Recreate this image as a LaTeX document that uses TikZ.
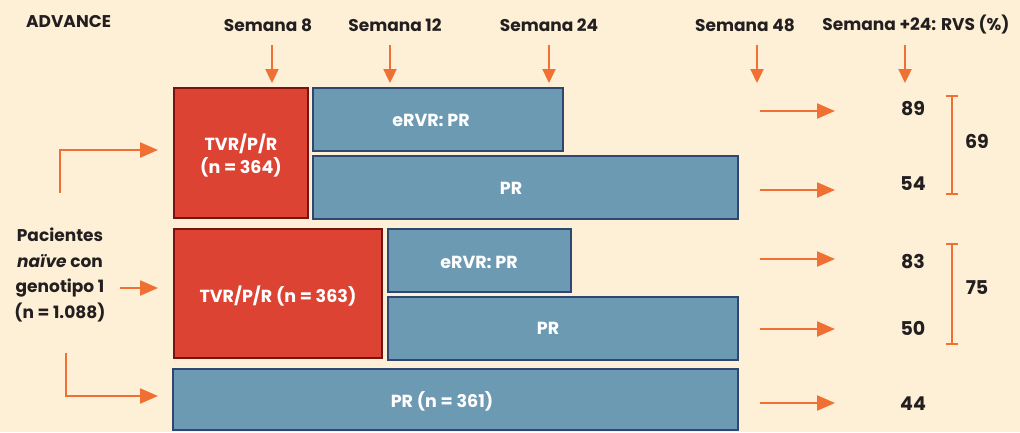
\documentclass[tikz,border=0pt]{standalone}
\usepackage{fontspec}
\setmainfont{Poppins}
\usetikzlibrary{arrows.meta}
\definecolor{bg}{HTML}{FEF0D6}
\definecolor{redf}{HTML}{DC4332}
\definecolor{redb}{HTML}{7A1212}
\definecolor{bluef}{HTML}{6C9AB3}
\definecolor{blueb}{HTML}{2E4670}
\definecolor{org}{HTML}{F07033}
\definecolor{txt}{HTML}{231F20}
\begin{document}
\begin{tikzpicture}[x=1pt,y=-1pt,
  boxfont/.style={font=\bfseries\fontsize{17.5}{23}\selectfont},
  redbox/.style={draw=redb,fill=redf,line width=2.2pt},
  bluebox/.style={draw=blueb,fill=bluef,line width=2.2pt},
  boxtext/.style={text=white,boxfont,align=center,inner sep=0pt},
  lbl/.style={text=txt,font=\bfseries\fontsize{17}{25.5}\selectfont,inner sep=0pt},
  num/.style={text=txt,font=\bfseries\fontsize{19}{21}\selectfont,inner sep=0pt},
  oarr/.style={draw=org,line width=2.3pt,-{Triangle[length=14pt,width=13pt]}},
  harr/.style={draw=org,line width=2.3pt,-{Triangle[length=18pt,width=15pt]}},
  obar/.style={draw=org,line width=2.3pt,{Bar[width=12pt,line width=2.3pt]}-{Bar[width=12pt,line width=2.3pt]}}]
\fill[bg] (0,0) rectangle (1020,432);
\useasboundingbox (0,0) rectangle (1020,432);
% boxes
\path[redbox] (174,88) rectangle (308,218);
\node[boxtext] (r1) at (241,156) {TVR/P/R\\(n = 364)};
\path[bluebox] (313,88) rectangle (563,151);
\node[boxtext] (b1) at (431,120) {eRVR: PR};
\path[bluebox] (313,156) rectangle (738,219);
\node[boxtext] (b2) at (511,188) {PR};
\path[redbox] (174,229) rectangle (382,358);
\node[boxtext] (r2) at (278,296) {TVR/P/R (n = 363)};
\path[bluebox] (388,229) rectangle (571,292);
\node[boxtext] (b3) at (479,262) {eRVR: PR};
\path[bluebox] (388,297) rectangle (738,360);
\node[boxtext] (b4) at (548,328) {PR};
\path[bluebox] (173,369) rectangle (738,430);
\node[boxtext] (b5) at (442,401) {PR (n = 361)};
% header labels
\node[lbl,anchor=west] (adv) at (26,22) {ADVANCE};
\node[lbl] (s8) at (268,25) {Semana 8};
\node[lbl] (s12) at (395,25) {Semana 12};
\node[lbl] (s24) at (549,25) {Semana 24};
\node[lbl] (s48) at (745,25) {Semana 48};
\node[lbl] (s72) at (916,25) {Semana +24: RVS (\%)};
\coordinate (a8) at (272,45); \coordinate (e8) at (272,83);
\coordinate (a12) at (390,45); \coordinate (e12) at (390,83);
\coordinate (a24) at (549,45); \coordinate (e24) at (549,83);
\coordinate (a48) at (757,45); \coordinate (e48) at (757,83);
\coordinate (a72) at (905,45); \coordinate (e72) at (905,83);
\foreach \n in {8,12,24,48,72} \draw[oarr] (a\n) -- (e\n);
% left label
\node[lbl,align=center] (pac) at (60,275) {Pacientes\\\textit{naïve} con\\genotipo 1\\(n = 1.088)};
\coordinate (l1a) at (60,193); \coordinate (l1b) at (158,150);
\draw[harr] (l1a) |- (l1b);
\coordinate (l2a) at (120,288); \coordinate (l2b) at (158,288);
\draw[harr] (l2a) -- (l2b);
\coordinate (l3a) at (66,353); \coordinate (l3b) at (158,396);
\draw[harr] (l3a) |- (l3b);
% right arrows and numbers
\foreach \y/\v/\ny in {111/89/109,190/54/184,259/83/262,329/50/328,403/44/404}{
  \coordinate (ra\v) at (760,\y); \coordinate (rb\v) at (835,\y);
  \draw[harr] (ra\v) -- (rb\v);
  \node[num] (n\v) at (913,\ny) {\v};
}
\coordinate (br1a) at (952,95); \coordinate (br1b) at (952,195);
\draw[obar] (br1a) -- (br1b);
\node[num] (n69) at (977,141) {69};
\coordinate (br2a) at (952,243); \coordinate (br2b) at (952,345);
\draw[obar] (br2a) -- (br2b);
\node[num] (n75) at (977,288) {75};
\end{tikzpicture}
\end{document}
